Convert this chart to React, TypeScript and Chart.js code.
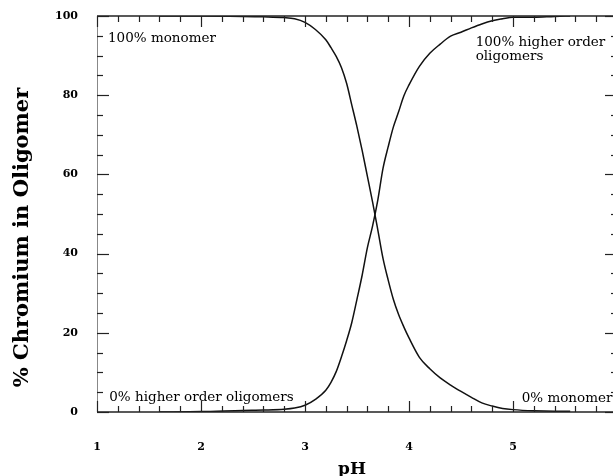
import React, { useEffect, useRef } from "react";
import { Chart, registerables } from "chart.js";

Chart.register(...registerables);

// ---- data ----
const pH = [1.6, 2.0, 2.4, 2.6, 2.8, 2.9, 3.0, 3.1, 3.2, 3.25, 3.3, 3.35, 3.4, 3.45, 3.5, 3.55, 3.6, 3.65, 3.7, 3.75, 3.8, 3.85, 3.9, 3.95, 4.0, 4.1, 4.2, 4.3, 4.4, 4.5, 4.6, 4.7, 4.8, 4.9, 5.0, 5.2, 5.4, 5.55];
const monomerPct = [100, 100, 99.9, 99.8, 99.6, 99.3, 98.4, 96.6, 94.0, 92.0, 89.8, 87.0, 83.0, 77.5, 72.0, 66.0, 59.5, 53.0, 46.0, 38.8, 33.3, 28.4, 24.6, 21.5, 18.7, 13.8, 10.9, 8.6, 6.8, 5.2, 3.7, 2.3, 1.5, 0.9, 0.6, 0.3, 0.2, 0.2];
const higherOrderPct = [0, 0.1, 0.4, 0.5, 0.7, 1.0, 1.7, 3.2, 5.5, 7.5, 10.2, 13.9, 18.0, 22.6, 28.5, 34.6, 41.5, 47.0, 53.5, 61.5, 67.0, 72.0, 75.8, 79.8, 82.6, 87.3, 90.6, 92.9, 94.9, 95.9, 97.0, 98.0, 98.8, 99.3, 99.7, 99.7, 99.9, 100];

const xMajorTicks = [1, 2, 3, 4, 5, 6];
const xMinorTicks = [1.2, 1.4, 1.6, 1.8, 2.2, 2.4, 2.6, 2.8, 3.2, 3.4, 3.6, 3.8, 4.2, 4.4, 4.6, 4.8, 5.2, 5.4, 5.6, 5.8];
const yMajorTicks = [0, 20, 40, 60, 80, 100];
const yMinorTicks = [5, 10, 15, 25, 30, 35, 45, 50, 55, 65, 70, 75, 85, 90, 95];
const xLabelLimit = 5;

const xTitle = "pH";
const yTitle = "% Chromium in Oligomer";
const notes = [
  { lines: ["100% monomer"], x: 1.106, y: 93.4 },
  { lines: ["100% higher order", "oligomers"], x: 4.641, y: 92.4 },
  { lines: ["0% higher order oligomers"], x: 1.118, y: 2.8 },
  { lines: ["0% monomer"], x: 5.084, y: 2.5 },
];

const SERIF = "'DejaVu Serif', 'Liberation Serif', serif";

const decorPlugin = {
  id: "decor",
  afterDatasetsDraw(chart: any) {
    const { ctx, chartArea: a, scales } = chart;
    const xs = scales.x;
    const ys = scales.y;
    const line = (x1: number, y1: number, x2: number, y2: number) => {
      ctx.beginPath();
      ctx.moveTo(x1, y1);
      ctx.lineTo(x2, y2);
      ctx.stroke();
    };
    ctx.save();
    // frame
    ctx.strokeStyle = "#222";
    ctx.lineWidth = 1.5;
    line(a.left, a.top, a.right, a.top);
    line(a.left, a.bottom, a.right, a.bottom);
    line(a.right, a.top, a.right, a.bottom);
    ctx.strokeStyle = "#888";
    ctx.lineWidth = 1;
    line(a.left + 0.5, a.top, a.left + 0.5, a.bottom);

    // tick marks (inward, all four sides)
    ctx.strokeStyle = "#222";
    ctx.lineWidth = 1.2;
    const xt = (v: number, len: number) => {
      const px = Math.round(xs.getPixelForValue(v)) + 0.5;
      line(px, a.bottom, px, a.bottom - len);
      line(px, a.top, px, a.top + len);
    };
    const yt = (v: number, len: number) => {
      const py = Math.round(ys.getPixelForValue(v)) + 0.5;
      line(a.left, py, a.left + len, py);
      line(a.right, py, a.right - len, py);
    };
    xMajorTicks.forEach((v) => xt(v, 11));
    xMinorTicks.forEach((v) => xt(v, 6));
    yMajorTicks.forEach((v) => yt(v, 12));
    yMinorTicks.forEach((v) => yt(v, 6));

    // annotations
    ctx.fillStyle = "#000";
    ctx.font = `13.5px ${SERIF}`;
    ctx.textAlign = "left";
    ctx.textBaseline = "alphabetic";
    notes.forEach((n) => {
      const px = xs.getPixelForValue(n.x);
      const py = ys.getPixelForValue(n.y);
      n.lines.forEach((t, i) => ctx.fillText(t, px, py + i * 13.5));
    });

    // axis titles
    ctx.font = `bold 17px ${SERIF}`;
    ctx.textAlign = "center";
    ctx.fillText(xTitle, 352, 474);
    ctx.save();
    ctx.translate(28, 237.5);
    ctx.rotate(-Math.PI / 2);
    ctx.font = `bold 21px ${SERIF}`;
    ctx.fillText(yTitle, 0, 0);
    ctx.restore();
    ctx.restore();
  },
};

export default function App() {
  const ref = useRef<HTMLCanvasElement>(null);
  useEffect(() => {
    if (!ref.current) return;
    const chart = new Chart(ref.current, {
      type: "line",
      data: {
        datasets: [
          {
            label: "monomer",
            data: pH.map((x, i) => ({ x, y: monomerPct[i] })),
            borderColor: "#111",
            borderWidth: 1.5,
            pointRadius: 0,
            cubicInterpolationMode: "monotone",
            fill: false,
          },
          {
            label: "higher order oligomers",
            data: pH.map((x, i) => ({ x, y: higherOrderPct[i] })),
            borderColor: "#111",
            borderWidth: 1.5,
            pointRadius: 0,
            cubicInterpolationMode: "monotone",
            fill: false,
          },
        ],
      },
      options: {
        animation: false,
        responsive: false,
        maintainAspectRatio: false,
        devicePixelRatio: 1,
        layout: { autoPadding: false, padding: { top: 16, right: 8, left: 0, bottom: 0 } },
        plugins: { legend: { display: false }, tooltip: { enabled: false }, title: { display: false } },
        scales: {
          x: {
            type: "linear",
            min: 1,
            max: 6,
            grid: { display: false, drawTicks: false },
            border: { display: false },
            ticks: {
              stepSize: 1,
              padding: 29,
              color: "#000",
              font: { family: SERIF, size: 11, weight: "bold" },
              callback: (v: any) => (Number(v) <= xLabelLimit ? String(v) : ""),
            },
            afterFit: (s: any) => {
              s.height = 64;
              s.paddingLeft = 0;
              s.paddingRight = 0;
            },
          },
          y: {
            min: 0,
            max: 100,
            grid: { display: false, drawTicks: false },
            border: { display: false },
            ticks: {
              stepSize: 20,
              padding: 19,
              color: "#000",
              font: { family: SERIF, size: 11, weight: "bold" },
            },
            afterFit: (s: any) => {
              s.width = 97;
              s.paddingTop = 0;
              s.paddingBottom = 0;
            },
          },
        },
      },
      plugins: [decorPlugin],
    } as any);
    return () => chart.destroy();
  }, []);

  return (
    <div
      style={{
        position: "fixed",
        left: 0,
        top: 0,
        width: 613,
        height: 476,
        overflow: "hidden",
        background: "#fff",
      }}
    >
      <canvas ref={ref} width={625} height={476} style={{ display: "block", width: 625, height: 476 }} />
    </div>
  );
}
